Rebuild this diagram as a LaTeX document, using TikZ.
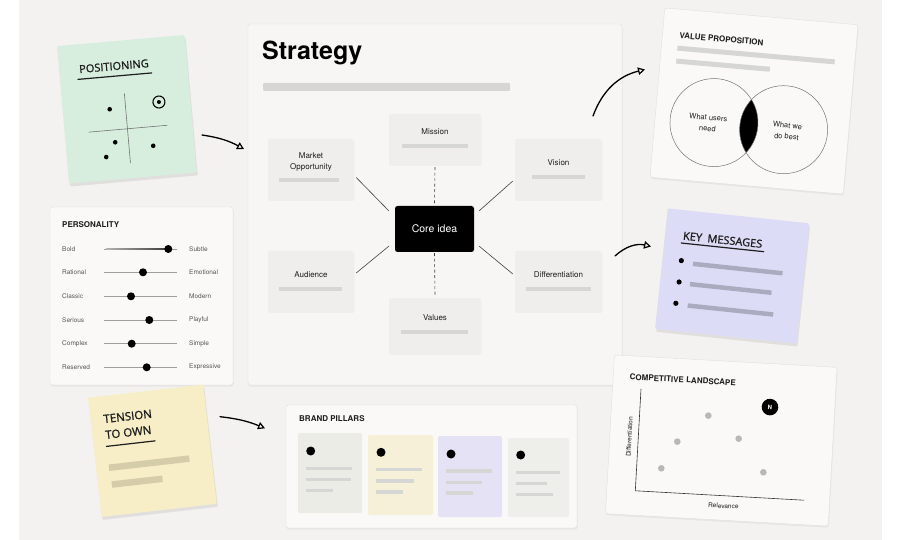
\documentclass[tikz,border=0pt]{standalone}
\usepackage{fontspec}
\setmainfont{TeX Gyre Heros}
\newfontfamily\hand{Open Sans}[FakeBold=1.2]
\usetikzlibrary{arrows.meta,shadows,calc}
\definecolor{bgc}{HTML}{F4F2F0}
\definecolor{cardc}{HTML}{FAF9F7}
\definecolor{cardln}{HTML}{E2E0DC}
\definecolor{panelc}{HTML}{F7F6F4}
\definecolor{subc}{HTML}{EFEEEC}
\definecolor{barc}{HTML}{D6D6D4}
\definecolor{txt}{HTML}{1E1E1E}
\definecolor{soft}{HTML}{555555}
\definecolor{greenst}{HTML}{D7EEDF}
\definecolor{lavst}{HTML}{DDDCF6}
\definecolor{yelst}{HTML}{F7EEC7}
\definecolor{lavbar}{HTML}{ABABC0}
\definecolor{yelbar}{HTML}{D5CCA9}
\definecolor{pilA}{HTML}{EAECE5}
\definecolor{pilB}{HTML}{F7F0D8}
\definecolor{pilC}{HTML}{E6E2F5}
\definecolor{pilD}{HTML}{EEEEEB}
\definecolor{dotgray}{HTML}{B8B8B8}
\begin{document}
\begin{tikzpicture}[x=1pt,y=-1pt,
  card/.style={fill=cardc, draw=cardln, line width=0.4pt, rounded corners=2.5pt,
    drop shadow={opacity=0.10, shadow xshift=0.6pt, shadow yshift=-1.6pt}},
  sticky/.style={rounded corners=1pt, drop shadow={opacity=0.16, shadow xshift=1.2pt, shadow yshift=-3pt}},
  subbox/.style={fill=subc, rounded corners=2pt, inner sep=0pt,
    drop shadow={opacity=0.06, shadow xshift=0.4pt, shadow yshift=-1pt}},
  bar/.style={draw=barc, line width=3.5pt},
  lbl/.style={font=\fontsize{8}{11}\selectfont, text=txt, align=center, inner sep=0pt},
  ttl/.style={font=\bfseries\fontsize{8}{10}\selectfont, text=txt, anchor=west, inner sep=0pt},
  hw/.style={font=\hand\fontsize{11}{16}\selectfont, text=txt, anchor=west, inner sep=0pt, align=left},
  plbl/.style={font=\fontsize{6.5}{8}\selectfont, text=soft, anchor=west, inner sep=0pt},
  flow/.style={line width=1.3pt, line cap=round, -{Triangle[open, length=7pt, width=7.5pt, line width=1.2pt]}},
  dotn/.style={circle, fill=black, inner sep=0pt, minimum size=4.6pt},
  gdot/.style={circle, fill=dotgray, inner sep=0pt, minimum size=6.6pt},
  knob/.style={circle, fill=black, inner sep=0pt, minimum size=8pt},
  hand line/.style={line width=1.2pt, line cap=round, draw=txt}
]
\useasboundingbox (0,0) rectangle (900,540);
\fill[white] (0,0) rectangle (900,540);
\fill[bgc] (19,0) rectangle (882,540);

% ---------------- Positioning sticky
\begin{scope}[shift={(126.75,109.25)}, rotate=5, transform shape]
  \path[sticky, fill=greenst] (-64,-69) rectangle (64,69);
  \node[hw, anchor=center] (post) at (-9,-44) {POSITIONING};
  \draw[hand line] (-46,-34) -- (28,-34);
  \draw[line width=0.6pt, draw=black!55] (-1,-16) -- (-1,54);
  \draw[line width=0.6pt, draw=black!55] (-40,19.5) -- (39,19.5);
  \node[dotn] (pd1) at (-17,-1.5) {};
  \node[dotn] (pd2) at (-14.4,31.9) {};
  \node[dotn] (pd3) at (-24.6,45.8) {};
  \node[dotn] (pd4) at (23.2,38.7) {};
  \node[circle, draw=black, line width=1.1pt, minimum size=12pt, inner sep=0pt] (ptarget) at (32.7,-4.4) {};
  \node[dotn, minimum size=4pt] (ptdot) at (32.7,-4.4) {};
\end{scope}

% ---------------- Personality
\path[card] (50,207) rectangle (233,385);
\node[ttl] (perst) at (62,225) {PERSONALITY};
\foreach \l/\r/\k/\y/\i in {Bold/Subtle/168.3/249/1, Rational/Emotional/143/272.3/2, Classic/Modern/131/296.3/3, Serious/Playful/149.3/320/4, Complex/Simple/131.7/343.7/5, Reserved/Expressive/146.7/367.3/6}{
  \node[plbl] (pl\i) at (62,\y) {\l};
  \node[plbl] (pr\i) at (189,\y) {\r};
  \draw[line width=0.8pt, draw=black!38] (104,\y) -- (177,\y);
  \ifnum\i=1
    \shade[left color=black!30, right color=black!75] (106,\y-0.7) rectangle (165,\y+0.7);
  \fi
  \node[knob] (pk\i) at (\k,\y) {};
}

% ---------------- Strategy panel
\path[card, fill=panelc] (248,24) rectangle (622,385);
\node[font=\bfseries\fontsize{25}{30}\selectfont, text=black, anchor=base west, inner sep=0pt] (strat) at (262,60) {Strategy};
\fill[barc, rounded corners=1pt] (263,83) rectangle (510,91);

\node[subbox, minimum width=92pt, minimum height=51pt] (mission) at (435,139.5) {};
\node[lbl] (missionl) at (435,132) {Mission};
\draw[bar] (402,146) -- (468,146);

\node[subbox, minimum width=86pt, minimum height=61pt] (mo) at (311,169.5) {};
\node[lbl] (mol) at (311,161.5) {Market\\Opportunity};
\draw[bar] (279,180) -- (339,180);

\node[subbox, minimum width=87pt, minimum height=61pt] (vis) at (558.5,169.5) {};
\node[lbl] (visl) at (558.5,163) {Vision};
\draw[bar] (532,177) -- (585,177);

\node[subbox, minimum width=86pt, minimum height=61pt] (aud) at (311,281.5) {};
\node[lbl] (audl) at (311,275) {Audience};
\draw[bar] (279,289) -- (342,289);

\node[subbox, minimum width=87pt, minimum height=61pt] (diff) at (558.5,281.5) {};
\node[lbl] (diffl) at (558.5,275) {Differentiation};
\draw[bar] (526,289) -- (591,289);

\node[subbox, minimum width=92pt, minimum height=56pt] (values) at (435,326) {};
\node[lbl] (valuesl) at (435,318) {Values};
\draw[bar] (401,332) -- (468,332);

\node[fill=black, rounded corners=2.5pt, minimum width=79pt, minimum height=46pt, inner sep=0pt,
      text=white, font=\fontsize{10.5}{12}\selectfont] (core) at (434.5,229) {Core idea};

\draw[line width=0.6pt, draw=black!75] ($(mo.east)+(2,8)$) -- ($(core.north west)+(-6,5)$);
\draw[line width=0.6pt, draw=black!75] ($(aud.east)+(2,-8.5)$) -- ($(core.south west)+(-6,-6)$);
\draw[line width=0.6pt, draw=black!75] ($(vis.west)+(-2,11.5)$) -- ($(core.north east)+(5,5)$);
\draw[line width=0.6pt, draw=black!75] ($(diff.west)+(-2,-7.5)$) -- ($(core.south east)+(5,-6)$);
\draw[line width=0.6pt, draw=black!75, dash pattern=on 3pt off 2.5pt] ($(mission.south)+(0,2)$) -- ($(core.north)+(0,-1)$);
\draw[line width=0.6pt, draw=black!75, dash pattern=on 3pt off 2.5pt] ($(core.south)+(0,1)$) -- ($(values.north)+(0,-2)$);

% ---------------- Value proposition
\begin{scope}[shift={(754,101)}, rotate=-5, transform shape]
  \path[card] (-97,-85) rectangle (97,85);
  \node[ttl] (vpt) at (-80,-59) {VALUE PROPOSITION};
  \draw[bar, line width=5pt] (-81,-46) -- (77,-46);
  \draw[bar, line width=5pt] (-81,-33) -- (13,-33);
  \begin{scope}
    \clip (-38,25) circle[radius=44pt];
    \fill[black] (32,26) circle[radius=44pt];
  \end{scope}
  \draw[line width=0.5pt, draw=black!55] (-38,25) circle[radius=44pt];
  \draw[line width=0.5pt, draw=black!55] (32,26) circle[radius=44pt];
  \node[lbl, font=\fontsize{7.5}{11}\selectfont] (need) at (-44,26) {What users\\need};
  \node[lbl, font=\fontsize{7.5}{11}\selectfont] (best) at (35.5,27) {What we\\do best};
\end{scope}

% ---------------- Key messages sticky
\begin{scope}[shift={(732,276)}, rotate=-6, transform shape]
  \path[sticky, fill=lavst] (-71,-60.5) rectangle (71,60.5);
  \node[hw] (kmt) at (-53,-35) {KEY\,\,\,MESSAGES};
  \draw[hand line] (-54,-27.5) -- (29,-27.5);
  \node[dotn, minimum size=5.2pt] (kb1) at (-52,-10) {};
  \node[dotn, minimum size=5.2pt] (kb2) at (-52,11.5) {};
  \node[dotn, minimum size=5.2pt] (kb3) at (-53,33) {};
  \draw[draw=lavbar, line width=4.5pt] (-40,-8) -- (50,-8);
  \draw[draw=lavbar, line width=4.5pt] (-41,12.5) -- (41,12.5);
  \draw[draw=lavbar, line width=4.5pt] (-41,34) -- (45,34);
\end{scope}

% ---------------- Competitive landscape
\begin{scope}[shift={(721.25,440.5)}, rotate=-3.2, transform shape]
  \path[card] (-111.5,-79.5) rectangle (111.5,79.5);
  \node[ttl] (clt) at (-95,-58.5) {COMPETITIVE LANDSCAPE};
  \draw[line width=0.6pt, draw=black!80] (-83,-47) -- (-83,55) -- (86,55);
  \node[gdot] (c1) at (-14.3,-24.1) {};
  \node[gdot] (c2) at (-43.8,3.6) {};
  \node[gdot] (c3) at (17.3,-2.8) {};
  \node[gdot] (c4) at (-58.3,31.1) {};
  \node[gdot] (c5) at (43.8,29.4) {};
  \node[circle, fill=black, minimum size=16.6pt, inner sep=0pt, text=white,
        font=\bfseries\fontsize{6}{7}\selectfont] (cn) at (46.8,-36.1) {N};
  \node[font=\fontsize{6.5}{8}\selectfont, text=txt, rotate=90, inner sep=0pt] (cy) at (-92,1.3) {Differentiation};
  \node[font=\fontsize{6.5}{8}\selectfont, text=txt, inner sep=0pt] (cx) at (5.8,65.3) {Relevance};
\end{scope}

% ---------------- Tension sticky
\begin{scope}[shift={(152.25,450.75)}, rotate=6.5, transform shape]
  \path[sticky, fill=yelst] (-58,-60) rectangle (58,60);
  \node[hw, font=\hand\fontsize{11.5}{16}\selectfont] (tent) at (-45,-29) {TENSION\\TO OWN};
  \draw[hand line] (-45,-9.5) -- (4,-9.5);
  \draw[draw=yelbar, line width=6.5pt] (-45,12) -- (36,12);
  \draw[draw=yelbar, line width=6.5pt] (-44,29) -- (7,29);
\end{scope}

% ---------------- Brand pillars
\path[card] (286,405) rectangle (577,528);
\node[ttl] (bpt) at (299,419) {BRAND PILLARS};
\fill[pilA, rounded corners=2pt] (298,433) rectangle (362,513);
\fill[pilB, rounded corners=2pt] (368,435) rectangle (433,515);
\fill[pilC, rounded corners=2pt] (438,436) rectangle (502,517);
\fill[pilD, rounded corners=2pt] (508,438) rectangle (569,517);
\node[dotn, minimum size=9pt] (bd1) at (310.7,451) {};
\node[dotn, minimum size=9pt] (bd2) at (381,452.3) {};
\node[dotn, minimum size=9pt] (bd3) at (451,454) {};
\node[dotn, minimum size=9pt] (bd4) at (520.7,455) {};
\draw[bar] (306,468.3) -- (351.7,468.3);
\draw[bar] (306,479.3) -- (351.3,479.3);
\draw[bar] (306,490.7) -- (332.7,490.7);
\draw[bar] (376,469.7) -- (422.3,469.7);
\draw[bar] (376,481) -- (414,481);
\draw[bar] (376,492) -- (403.3,492);
\draw[bar] (446,471) -- (492,471);
\draw[bar] (446,482.3) -- (481.7,482.3);
\draw[bar] (446,493) -- (473,493);
\draw[bar] (515.7,472.3) -- (559.7,472.3);
\draw[bar] (515.7,483.3) -- (546.7,483.3);
\draw[bar] (515.7,494.3) -- (553.3,494.3);

% ---------------- Flow arrows
\coordinate (a1s) at (202,135);
\coordinate (a1e) at (244,149);
\draw[flow] (a1s) to[bend left=10] (a1e);
\coordinate (a2s) at (220,416.7);
\coordinate (a2e) at (265,428.3);
\draw[flow] (a2s) to[bend left=8] (a2e);
\coordinate (a3s) at (593,116);
\coordinate (a3e) at (645,69.5);
\draw[flow] (a3s) to[bend left=28] (a3e);
\coordinate (a4s) at (615,256);
\coordinate (a4e) at (651,246.5);
\draw[flow] (a4s) to[bend left=28] (a4e);
\end{tikzpicture}
\end{document}
